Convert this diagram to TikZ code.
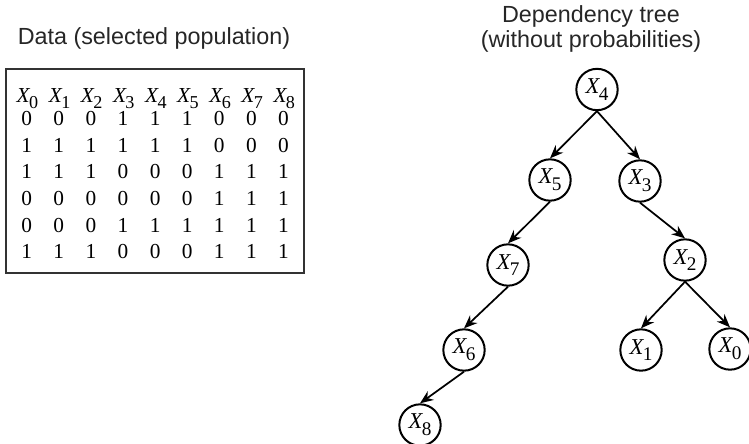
\documentclass[tikz,border=0pt]{standalone}
\usepackage{fontspec}
\usepackage{graphicx}
\setmainfont{Liberation Serif}
\newfontfamily\titlefont{Liberation Sans}
\usetikzlibrary{arrows.meta}
% variable name X with a large lowered index
\newcommand{\xvar}[1]{\textit{X}\kern-0.06em\raisebox{-0.3em}{\scalebox{0.85}{#1}}}
\tikzset{
  title/.style={font=\titlefont\fontsize{17.5}{20}\selectfont, anchor=base, text=black!85},
  cell/.style={font=\fontsize{16}{18}\selectfont, anchor=base, inner sep=0pt},
  var/.style={draw, circle, line width=1.5pt, minimum size=31pt, inner sep=0pt,
              font=\fontsize{17}{19}\selectfont},
  dep/.style={-{Stealth[length=10pt,width=8pt]}, line width=1.3pt}
}
\begin{document}
\begin{tikzpicture}[x=0.75pt,y=-0.75pt]
\useasboundingbox (0,0) rectangle (749,443);

% left panel: the data table
\node[title] (tdata) at (154,44) {Data (selected population)};
\draw[line width=1.1pt, black!80] (6,69) rectangle (304,273);
\foreach \c [count=\i from 0] in {0,...,8} {
  \node[cell] (h\i) at ({27.5+32.1*\i},102) {\xvar{\c}};
}
\foreach \row [count=\r from 0] in {
  {0,0,0,1,1,1,0,0,0},
  {1,1,1,1,1,1,0,0,0},
  {1,1,1,0,0,0,1,1,1},
  {0,0,0,0,0,0,1,1,1},
  {0,0,0,1,1,1,1,1,1},
  {1,1,1,0,0,0,1,1,1}} {
  \foreach \v [count=\i from 0] in \row {
    \node[cell] (d\r-\i) at ({26.7+32.1*\i},{125.5+26.67*\r}) {\v};
  }
}

% right panel: the dependency tree
\node[title] (ttree1) at (591,22) {Dependency tree};
\node[title] (ttree2) at (591,47) {(without probabilities)};

\node[var] (x4) at (597,89.5) {\xvar{4}};
\node[var] (x5) at (550,180) {\xvar{5}};
\node[var] (x3) at (640,181) {\xvar{3}};
\node[var] (x7) at (508,265) {\xvar{7}};
\node[var] (x2) at (685,260) {\xvar{2}};
\node[var] (x6) at (464,350) {\xvar{6}};
\node[var] (x1) at (641,350) {\xvar{1}};
\node[var] (x0) at (730,349) {\xvar{0}};
\node[var] (x8) at (420,425) {\xvar{8}};

\draw[dep] (x4.south) -- (x5.north);
\draw[dep] (x4.south) -- (x3.north);
\draw[dep] (x5.south) -- (x7.north);
\draw[dep] (x7.south) -- (x6.north);
\draw[dep] (x6.south) -- (x8.north);
\draw[dep] (x3.south) -- (x2.north);
\draw[dep] (x2.south) -- (x1.north);
\draw[dep] (x2.south) -- (x0.north);
\end{tikzpicture}
\end{document}
